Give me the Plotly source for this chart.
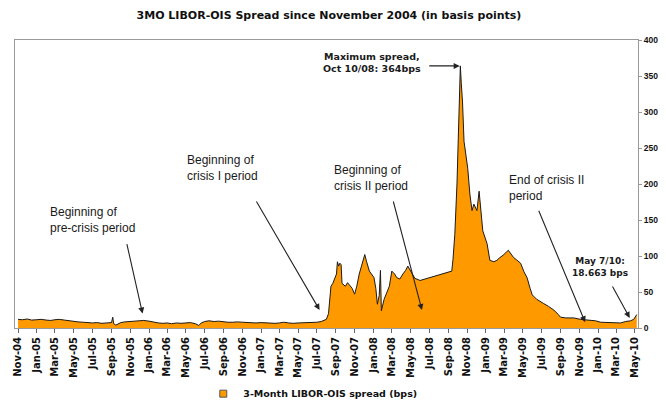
import plotly.graph_objects as go

# ---- data ----
dates = [
    "2004-11-01", "2004-11-15", "2004-12-01", "2004-12-15", "2005-01-01", "2005-01-15",
    "2005-02-01", "2005-02-15", "2005-03-01", "2005-03-15", "2005-04-01", "2005-04-15",
    "2005-05-01", "2005-05-15", "2005-06-01", "2005-06-15", "2005-07-01", "2005-07-15",
    "2005-08-01", "2005-08-15", "2005-09-01", "2005-09-05", "2005-09-08", "2005-09-15",
    "2005-10-01", "2005-10-15", "2005-11-01", "2005-11-15", "2005-12-01", "2005-12-15",
    "2006-01-01", "2006-01-15", "2006-02-01", "2006-02-15", "2006-03-01", "2006-03-15",
    "2006-04-01", "2006-04-15", "2006-05-01", "2006-05-15", "2006-06-01", "2006-06-12",
    "2006-06-20", "2006-07-01", "2006-07-15", "2006-08-01", "2006-08-15", "2006-09-01",
    "2006-09-15", "2006-10-01", "2006-10-15", "2006-11-01", "2006-11-15", "2006-12-01",
    "2006-12-15", "2007-01-01", "2007-01-15", "2007-02-01", "2007-02-15", "2007-03-01",
    "2007-03-15", "2007-04-01", "2007-04-15", "2007-05-01", "2007-05-15", "2007-06-01",
    "2007-06-15", "2007-07-01", "2007-07-15", "2007-08-01",
    "2007-08-08", "2007-08-13", "2007-08-16", "2007-08-22", "2007-08-28", "2007-09-03",
    "2007-09-06", "2007-09-10", "2007-09-14", "2007-09-18", "2007-09-21", "2007-10-02",
    "2007-10-09", "2007-10-15", "2007-10-24", "2007-11-01", "2007-11-08", "2007-11-16",
    "2007-11-26", "2007-12-04", "2007-12-10", "2007-12-19", "2008-01-03", "2008-01-09",
    "2008-01-14", "2008-01-20", "2008-01-24", "2008-01-27", "2008-02-05", "2008-02-12",
    "2008-02-22", "2008-03-01", "2008-03-10", "2008-03-17", "2008-03-27", "2008-04-06",
    "2008-04-15", "2008-04-22", "2008-05-01", "2008-05-15", "2008-06-01", "2008-06-17",
    "2008-07-03", "2008-07-20", "2008-08-05", "2008-08-28", "2008-09-12", "2008-09-16",
    "2008-09-22", "2008-09-29", "2008-10-03", "2008-10-07", "2008-10-10", "2008-10-13",
    "2008-10-17", "2008-10-22", "2008-10-27", "2008-11-03", "2008-11-10", "2008-11-17",
    "2008-11-23", "2008-12-03", "2008-12-10", "2008-12-15", "2008-12-22", "2009-01-05",
    "2009-01-14", "2009-01-27", "2009-02-06", "2009-02-16", "2009-02-26", "2009-03-15",
    "2009-03-22", "2009-04-01", "2009-04-10", "2009-04-24", "2009-05-05", "2009-05-15",
    "2009-05-25", "2009-06-01", "2009-06-15", "2009-06-28", "2009-07-08", "2009-07-24",
    "2009-08-10", "2009-08-24", "2009-09-01", "2009-09-18", "2009-10-14", "2009-11-05",
    "2009-11-28", "2009-12-24", "2010-01-10", "2010-01-26", "2010-02-11", "2010-02-27",
    "2010-03-15", "2010-04-01", "2010-04-17", "2010-04-27", "2010-05-07",
]
spread_bps = [
    12, 11.5, 12.5, 11, 11.5, 12,
    11, 10.5, 11.5, 12, 11, 10,
    9, 8.5, 8, 7.5, 7, 7.5,
    6.5, 7, 7.5, 15, 6, 4,
    7.5, 8.5, 9, 9.5, 10, 10.5,
    9.5, 8, 7, 6.5, 7, 6,
    7, 6.5, 7, 7.5, 6, 3.5,
    7, 9, 10, 9, 9.5, 8.5,
    8, 8, 8.5, 8, 7.5, 7,
    7, 7.5, 7, 7, 6.5, 7,
    8, 7, 6.5, 7, 7, 7.5,
    7, 8, 9, 12,
    20, 50, 58, 62, 70, 75,
    92, 86, 90, 88, 62, 58,
    63, 60, 55, 47, 58, 75,
    90, 102, 92, 79, 70, 55,
    33, 45, 80, 24, 40, 47,
    58, 79, 75, 70, 68, 75,
    80, 86, 80, 69, 66, 68,
    71, 73, 75, 77, 79, 95,
    130, 200, 260, 300, 364, 340,
    314, 259, 240, 222, 186, 163,
    172, 163, 190, 167, 135, 117,
    94, 92, 94, 98, 101, 108,
    104, 98, 95, 90, 78, 70,
    55, 46, 40, 36, 34, 30,
    25, 19, 15, 14, 14, 12,
    11, 10, 8, 8, 7, 8,
    7, 9, 10, 12, 18.663,
]
series_name = "3-Month LIBOR-OIS spread (bps)"
title_text = "3MO LIBOR-OIS Spread since November 2004 (in basis points)"
y_ticks = [0, 50, 100, 150, 200, 250, 300, 350, 400]

ORANGE = "#FF9900"
DARK = "#1a1a1a"
BOLD = "DejaVu Sans"
PLAIN = "Liberation Sans"

fig = go.Figure()
fig.add_trace(go.Scatter(
    x=dates, y=spread_bps, mode="lines", fill="tozeroy",
    fillcolor=ORANGE, line=dict(color=DARK, width=1),
    showlegend=False, hoverinfo="x+y",
))
# legend entry (small orange square)
fig.add_trace(go.Scatter(
    x=[None], y=[None], mode="markers", name=series_name,
    marker=dict(symbol="square", size=7, color=ORANGE,
                line=dict(color="#555", width=1)),
))

fig.update_layout(
    width=666, height=403,
    margin=dict(l=15, r=28, t=40, b=75, autoexpand=False),
    paper_bgcolor="white", plot_bgcolor="white",
    title=dict(text=title_text, x=0.504, xref="paper",
               y=1 - 15 / 403, yref="container", xanchor="center", yanchor="middle",
               font=dict(family=BOLD, size=11, color="#111", weight="bold")),
    showlegend=True,
    legend=dict(orientation="h", x=0.478, xanchor="center", y=-0.228, yanchor="middle",
                font=dict(family=BOLD, size=9.5, color="#111", weight="bold"),
                itemwidth=30, bgcolor="rgba(0,0,0,0)"),
    xaxis=dict(
        type="date", range=["2004-10-22", "2010-05-11"],
        tick0="2004-11-01", dtick="M2", tickformat="%b-%y", tickangle=-90,
        ticks="outside", ticklen=4, tickcolor="#666",
        showline=True, linecolor="#999", linewidth=1, mirror=True,
        showgrid=False, zeroline=False, automargin=False,
        tickfont=dict(family=BOLD, size=10, color="#111", weight="bold"),
    ),
    yaxis=dict(
        range=[0, 400], tickvals=y_ticks, side="right",
        ticks="outside", ticklen=3, tickcolor="#999",
        showline=True, linecolor="#999", linewidth=1, mirror=True,
        showgrid=False, zeroline=False, automargin=False,
        tickfont=dict(family=PLAIN, size=8.5, color="#111", weight="bold"),
    ),
)

plain_font = dict(family=PLAIN, size=12, color=DARK)
bold_small = dict(family=BOLD, size=9.5, color=DARK, weight="bold")

def px_x(p):
    return (p - 15) / 623.0

def px_y(p):
    return (328 - p) / 288.0

texts = [
    ("Beginning of<br>pre-crisis period", 48, 203, "left", plain_font),
    ("Beginning of<br>crisis I period", 185, 151, "left", plain_font),
    ("Beginning of<br>crisis II period", 332, 161, "left", plain_font),
    ("End of crisis II<br>period", 507, 171, "left", plain_font),
    ("Maximum spread,<br>Oct 10/08: 364bps", 372, 49, "center", bold_small),
    ("May 7/10:<br>18.663 bps", 600, 254, "center",
     dict(family=BOLD, size=9, color=DARK, weight="bold")),
]
for t, px, py, anc, f in texts:
    fig.add_annotation(text=t, xref="paper", yref="paper", x=px_x(px), y=px_y(py),
                       xanchor=anc, yanchor="top", align=anc, showarrow=False, font=f)

# arrows: head in data coords, tail offset in pixels
arrows = [
    ("2005-12-11", 20, -16, -71),
    ("2007-07-10", 25, -64, -110),
    ("2008-06-07", 25, -29, -110),
    ("2008-10-08", 364, -32, 0),
    ("2009-11-20", 8, -47, -113),
    ("2010-04-14", 14, -18, -33),
]
for hx, hy, ax, ay in arrows:
    fig.add_annotation(x=hx, y=hy, xref="x", yref="y", text="", showarrow=True,
                       ax=ax, ay=ay, arrowhead=2, arrowsize=1.1, arrowwidth=1.1,
                       arrowcolor="#222", standoff=0)

fig.write_html("out.html",
               config={"displayModeBar": False},
               post_script="document.body.style.margin='0';document.body.style.overflow='hidden';")
